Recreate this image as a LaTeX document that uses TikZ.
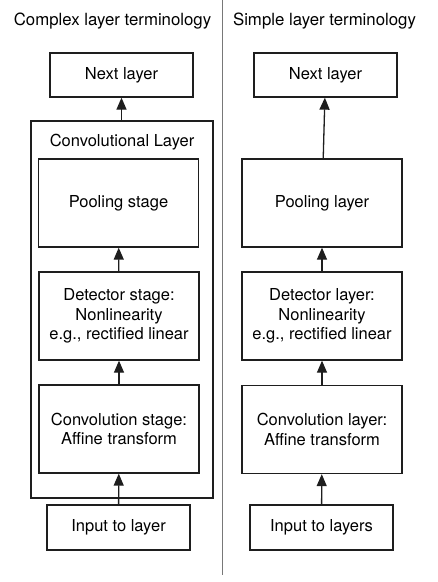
\documentclass[tikz,border=0pt]{standalone}
\usepackage{fontspec}
\setmainfont{TeX Gyre Heros}
\usetikzlibrary{arrows.meta}
\definecolor{LineDark}{RGB}{30,30,30}
\definecolor{Divider}{RGB}{120,120,120}

\begin{document}
\begin{tikzpicture}[x=1pt, y=-1pt,
            box/.style={draw=LineDark, line width=1.3pt, inner sep=0pt, minimum width=160pt, minimum height=88pt, align=center, font=\fontsize{16.5}{19.5}\selectfont},
            endbox/.style={box, minimum width=143pt, minimum height=44pt},
            title/.style={anchor=base, font=\fontsize{16.8}{20}\selectfont},
            arr/.style={-{Triangle[length=12pt, width=10pt]}, line width=1.3pt, draw=LineDark, fill=LineDark}
        ]
            \useasboundingbox (0,0) rectangle (438,582);
            \draw[Divider, line width=1.1pt] (222.5,0) -- (222.5,575);
            % complex terminology
            \node[title] (ctitle) at (112.5,25) {Complex layer terminology};
            \node[endbox] (nextc) at (121.5,75)    {Next layer};
            \node[box, minimum width=182pt, minimum height=377pt] (convl) at (122,309.5) {};
            \node[font=\fontsize{16.5}{19.5}\selectfont] (convt) at (122,142) {Convolutional Layer};
            \node[box] (poolc) at (118.5,203)   {Pooling stage};
            \node[box] (detc)  at (119,316)     {Detector stage:\\Nonlinearity\\e.g., rectified linear};
            \node[box] (affc)  at (119,429)     {Convolution stage:\\Affine transform};
            \node[endbox, minimum height=45pt] (inc) at (118.5,527.5) {Input to layer};
            \draw[arr] (convl.north -| nextc) -- (nextc);
            \draw[arr] (detc) -- (poolc);
            \draw[arr] (affc) -- (detc);
            \draw[arr] (inc) -- (affc);
            % simple terminology
            \node[title] (stitle) at (324.5,25) {Simple layer terminology};
            \node[endbox] (nexts) at (325.5,75)   {Next layer};
            \node[box] (pools) at (322,203)       {Pooling layer};
            \node[box] (dets)  at (322,316)       {Detector layer:\\Nonlinearity\\e.g., rectified linear};
            \node[box] (convs) at (322,429.5)     {Convolution layer:\\Affine transform};
            \node[endbox, minimum height=45pt] (ins) at (321.5,527.5) {Input to layers};
            \draw[arr] (pools) -- (nexts);
            \draw[arr] (dets) -- (pools);
            \draw[arr] (convs) -- (dets);
            \draw[arr] (ins) -- (convs);
        \end{tikzpicture}
\end{document}
